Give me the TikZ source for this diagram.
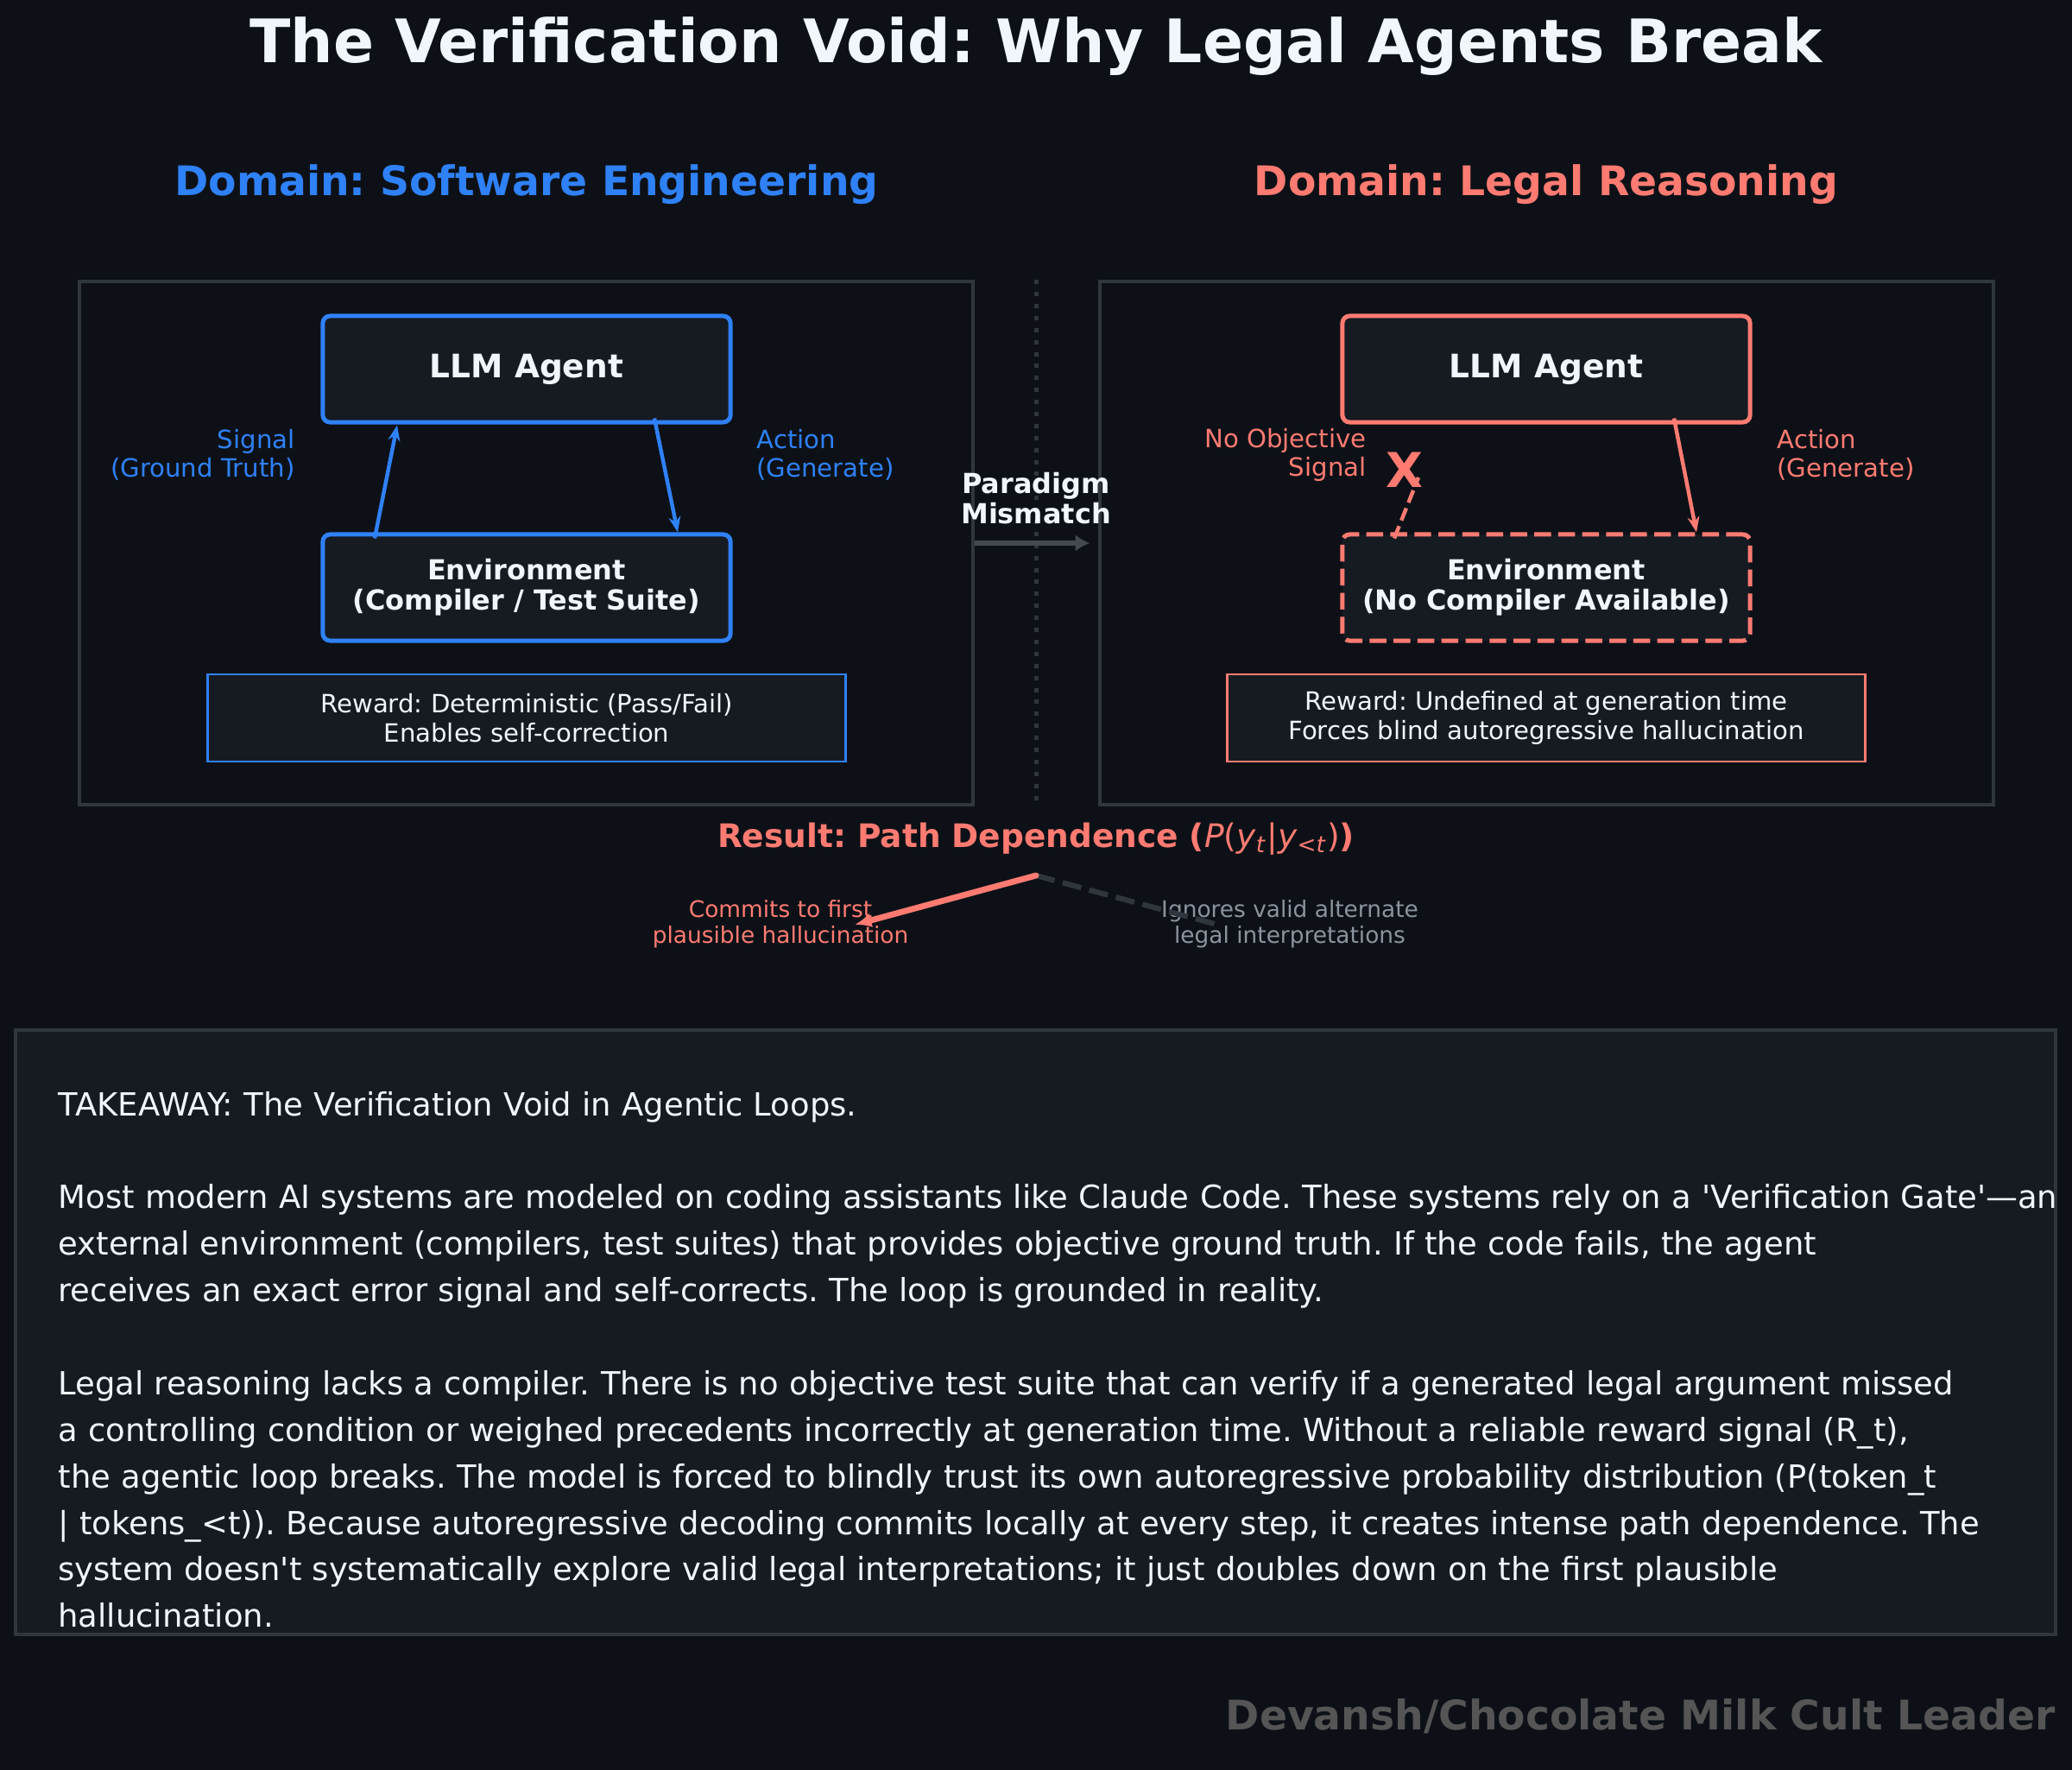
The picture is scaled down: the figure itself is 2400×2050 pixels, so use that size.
\documentclass[tikz,border=0pt]{standalone}
\usepackage{fontspec}
\setmainfont{DejaVu Sans}
\usetikzlibrary{positioning, arrows.meta, calc}

\definecolor{bgcol}{HTML}{0D1117}
\definecolor{panelcol}{HTML}{161B22}
\definecolor{edgecol}{HTML}{30363D}
\definecolor{bluecol}{HTML}{2F81F7}
\definecolor{redcol}{HTML}{FF7B72}
\definecolor{txtcol}{HTML}{F0F6FC}
\definecolor{mutedcol}{HTML}{8B949E}
\definecolor{footcol}{HTML}{555555}

\begin{document}
\frenchspacing
\begin{tikzpicture}[x=0.36pt, y=-0.36pt,
  agent/.style={draw, line width=1.8pt, rounded corners=3pt, fill=panelcol,
    minimum width=170pt, minimum height=44.3pt, text=txtcol, align=center},
  reward/.style={draw, line width=0.9pt, fill=panelcol, minimum width=266pt,
    minimum height=36.4pt, text=txtcol, align=center,
    font=\fontsize{10.5}{12}\selectfont},
  panel/.style={draw=edgecol, line width=1.2pt, minimum width=372.6pt,
    minimum height=218.2pt},
  loop/.style={-{Stealth[length=6.5pt,width=5pt]}, line width=1.6pt},
  side/.style={font=\fontsize{10.5}{12}\selectfont, inner sep=0pt},
  head/.style={font=\fontsize{17}{20}\bfseries}]

  % page and background
  \useasboundingbox[fill=bgcol] (0,0) rectangle (2400,2050);
  \node[text=txtcol, font=\fontsize{25}{29}\bfseries] (title) at (1200,54)
    {The Verification Void: Why Legal Agents Break};

  % two domains
  \node[head, text=bluecol] (domA) at (610,214) {Domain: Software Engineering};
  \node[head, text=redcol] (domB) at (1791,214) {Domain: Legal Reasoning};
  \node[panel] (panA) at (609.5,629) {};
  \node[panel] (panB) at (1791.5,629) {};

  % software loop
  \node[agent, draw=bluecol, font=\fontsize{13.5}{15}\bfseries] (llmA) at (610,427.5) {LLM Agent};
  \node[agent, draw=bluecol, font=\fontsize{11.5}{12.6}\bfseries] (envA) at (610,680.5)
    {Environment\\(Compiler / Test Suite)};
  \node[reward, draw=bluecol] (rewA) at (610,831.5)
    {Reward: Deterministic (Pass/Fail)\\Enables self-correction};
  \draw[loop, bluecol] ($(envA.north)+(-176,7)$) -- ($(llmA.south)+(-150,1)$);
  \draw[loop, bluecol] ($(llmA.south)+(148,-7)$) -- ($(envA.north)+(175,0)$);
  \node[side, text=bluecol, anchor=east, align=right] (sigA) at (342,527)
    {Signal\\(Ground Truth)};
  \node[side, text=bluecol, anchor=west, align=left] (actA) at (876,527)
    {Action\\(Generate)};

  % legal loop
  \node[agent, draw=redcol, font=\fontsize{13.5}{15}\bfseries] (llmB) at (1791,427.5) {LLM Agent};
  \node[agent, draw=redcol, dash pattern=on 7pt off 3pt, font=\fontsize{11.5}{12.6}\bfseries]
    (envB) at (1791,680.5) {Environment\\(No Compiler Available)};
  \node[reward, draw=redcol] (rewB) at (1791,831.5)
    {Reward: Undefined at generation time\\Forces blind autoregressive hallucination};
  \draw[loop, redcol] ($(llmB.south)+(148,-7)$) -- ($(envB.north)+(174,0)$);
  \coordinate (cut) at (1643,553);
  \draw[redcol, line width=1.6pt, dash pattern=on 5.5pt off 2.5pt]
    ($(envB.north)+(-176,7)$) -- (cut);
  \node[text=redcol, font=\fontsize{20}{22}\bfseries, inner sep=0pt] (nope) at (1627,544) {X};
  \node[side, text=redcol, anchor=east, align=right] (sigB) at (1583,527)
    {No Objective\\Signal};
  \node[side, text=redcol, anchor=west, align=left] (actB) at (2058,527)
    {Action\\(Generate)};

  % mismatch between panels
  \draw[edgecol, line width=1.8pt, dash pattern=on 1.8pt off 3.2pt]
    (panA.north east -| 1200,0) -- (panA.south east -| 1200,0);
  \node[text=txtcol, font=\fontsize{11.5}{12.6}\bfseries, align=center] (mis) at (1200,577)
    {Paradigm\\Mismatch};
  \draw[-{Latex[length=6pt,width=7pt]}, color=edgecol!90!white, line width=2.5pt,
    shorten >=3.6pt] (panA.east) -- (panB.west);

  % result
  \node[text=redcol, font=\fontsize{13.5}{16}\bfseries] (res) at (1200,972)
    {Result: Path Dependence ({\mdseries\itshape P}{\mdseries(\textit{y}\textsubscript{\textit{t}}|\textit{y}\textsubscript{<\textit{t}})})};
  \node[text=redcol, font=\fontsize{9.5}{10.8}\selectfont, align=center] (commit) at (904,1070)
    {Commits to first\\plausible hallucination};
  \node[text=mutedcol, font=\fontsize{9.5}{10.8}\selectfont, align=center] (ignore) at (1494,1070)
    {Ignores valid alternate\\legal interpretations};
  \coordinate (fork) at (1200,1014);
  \coordinate (pick) at ($(commit.center)+(86,1)$);
  \coordinate (skip) at ($(ignore.center)+(-80,2)$);
  \draw[edgecol, line width=2.2pt, dash pattern=on 8pt off 3.5pt] (fork) -- (skip);
  \draw[-{Latex[length=7pt,width=6pt]}, redcol, line width=2.5pt, line cap=round] (fork) -- (pick);

  % takeaway
  \draw[draw=edgecol, fill=panelcol, line width=1.3pt] (18,1193) rectangle (2381,1893);
  \node[text=txtcol, anchor=base west, text width=850pt, align=left, inner sep=0pt,
    font=\fontsize{13.3}{19.4}\selectfont] (take) at (67,1292)
    {TAKEAWAY: The Verification Void in Agentic Loops.\\[19.4pt]
     Most modern AI systems are modeled on coding assistants like Claude Code. These systems rely on a \textquotesingle Verification Gate\textquotesingle—an\\
     external environment (compilers, test suites) that provides objective ground truth. If the code fails, the agent\\
     receives an exact error signal and self-corrects. The loop is grounded in reality.\\[19.4pt]
     Legal reasoning lacks a compiler. There is no objective test suite that can verify if a generated legal argument missed\\
     a controlling condition or weighed precedents incorrectly at generation time. Without a reliable reward signal (R\_t),\\
     the agentic loop breaks. The model is forced to blindly trust its own autoregressive probability distribution (P(token\_t\\
     | tokens\_<t)). Because autoregressive decoding commits locally at every step, it creates intense path dependence. The\\
     system doesn\textquotesingle t systematically explore valid legal interpretations; it just doubles down on the first plausible\\
     hallucination.};

  % credit
  \node[text=footcol, font=\fontsize{17}{20}\bfseries, anchor=east, inner sep=0pt] (credit) at (2381,1988)
    {Devansh/Chocolate Milk Cult Leader};
\end{tikzpicture}
\end{document}
